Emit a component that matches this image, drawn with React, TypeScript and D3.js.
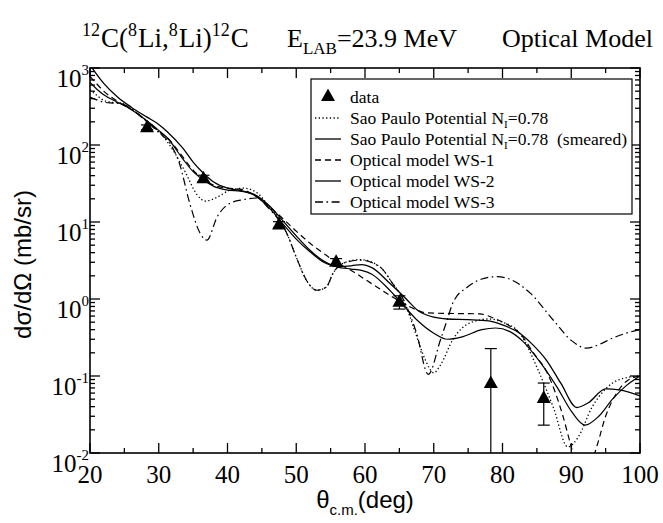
import React from 'react';
import * as d3 from 'd3';

// Measured angular distribution
const dataAngle = [28.3, 36.5, 47.5, 55.8, 65.0, 78.3, 86.0];
const dataSigma = [170, 37, 9.3, 3.05, 0.92, 0.081, 0.052];
const dataError = [12, 3.5, 0.8, 0.3, 0.18, 0.146, 0.029];

// Calculations: [theta_cm (deg), dsigma/dOmega (mb/sr)]
const saoPaulo: [number, number][] = [
  [20, 520], [21, 440], [22, 380], [23, 360], [24.5, 350], [26, 295], [28, 215], [30, 150],
  [32, 88], [34, 42], [35.5, 23], [36.8, 18.7], [38.5, 21], [40.4, 26], [42.3, 27.5], [44.3, 24],
  [46, 16], [47.5, 11], [48.6, 7.2], [50, 3.5], [51.5, 1.74], [53, 1.3], [54.4, 1.44], [55.4, 2.2],
  [56.8, 2.9], [59.3, 3.25], [62.2, 2.6], [64, 1.6], [65.6, 0.98], [66.5, 0.6], [67.5, 0.33],
  [68.8, 0.16], [70, 0.11], [71, 0.14], [72.8, 0.3], [75.3, 0.49], [78, 0.55], [80, 0.5],
  [82.5, 0.36], [85, 0.13], [87.4, 0.039], [89.5, 0.012], [91, 0.016], [93, 0.039], [95, 0.068],
  [97, 0.09], [100, 0.1],
];

const saoPauloSmeared: [number, number][] = [
  [20, 650], [21, 530], [22, 450], [24, 360], [26, 290], [28.3, 205], [30, 155], [31.2, 125],
  [33.5, 66], [35, 45], [36.5, 35], [38, 29], [40, 26], [42, 25], [44, 22], [46, 15.5], [48, 9.6],
  [50, 6], [52, 4.1], [54, 3.0], [56, 2.6], [58, 2.45], [59.5, 2.35], [61, 2.1], [63.6, 1.3],
  [66, 0.75], [67.6, 0.53], [70, 0.36], [72, 0.3], [74, 0.32], [77, 0.4], [79, 0.42], [81, 0.38],
  [83, 0.28], [85.5, 0.15], [88, 0.07], [90, 0.035], [92, 0.023], [94, 0.03], [96, 0.05],
  [98, 0.075], [100, 0.1],
];

const ws1: [number, number][] = [
  [20, 780], [21, 620], [22, 500], [24, 370], [26, 290], [28.3, 205], [30, 150], [31.2, 125],
  [33.5, 70], [35, 47], [36.5, 36], [38, 30], [40, 27.5], [42, 26.5], [44, 22], [46, 16], [48, 11.2],
  [50, 7.6], [52, 5.3], [54, 3.9], [55.8, 3.0], [58, 2.35], [60, 1.8], [62, 1.38], [64, 1.06],
  [66, 0.84], [67.5, 0.72], [69, 0.66], [72, 0.65], [76.7, 0.64], [79, 0.55], [81, 0.45],
  [82.5, 0.36], [84.5, 0.2], [86.5, 0.11], [88.8, 0.03], [90, 0.012], [91.3, 0.005], [92.5, 0.006],
  [93.7, 0.012], [95, 0.03], [96.6, 0.06], [98, 0.085], [100, 0.1],
];

const ws2: [number, number][] = [
  [20, 1100], [21, 820], [22, 630], [24, 420], [26, 310], [28.3, 230], [30, 185], [31.2, 150],
  [33.5, 91], [35, 60], [36.5, 43], [38, 33], [40, 27.5], [42, 25.5], [44, 22.5], [46, 16.5],
  [48, 10.5], [50, 6.6], [52, 4.3], [54, 3.1], [56, 2.65], [58, 2.7], [59.5, 2.8], [61, 2.55],
  [63.6, 1.6], [66, 1.0], [67.6, 0.72], [70, 0.58], [72, 0.55], [75, 0.54], [78, 0.52], [80, 0.46],
  [82.5, 0.36], [84.5, 0.25], [86.4, 0.16], [88.5, 0.08], [90.8, 0.039], [92.5, 0.045], [95, 0.068],
  [97, 0.066], [100, 0.055],
];

const ws3: [number, number][] = [
  [20, 420], [21, 385], [22, 360], [23.3, 350], [24.5, 345], [26, 295], [28, 210], [30, 145],
  [31.6, 106], [33, 58], [34.5, 17.6], [36, 7.2], [37, 5.8], [38.5, 11.7], [40.4, 17.6], [42.3, 19.5],
  [44.3, 20.5], [46, 15], [47.5, 10.5], [48.6, 7.2], [50, 3.5], [51.5, 1.74], [53, 1.3], [54.4, 1.44],
  [55.4, 2.2], [56.8, 2.9], [59.3, 3.2], [62.2, 2.6], [64, 1.6], [65.6, 0.98], [67.5, 0.36],
  [69.2, 0.105], [71, 0.3], [72, 0.55], [72.8, 0.9], [75, 1.45], [77, 1.82], [79.2, 1.95], [81, 1.82],
  [84, 1.2], [87.4, 0.53], [90, 0.29], [92.2, 0.23], [94, 0.255], [96, 0.31], [98, 0.36], [100, 0.4],
];

const xMajorTicks = [20, 30, 40, 50, 60, 70, 80, 90, 100];
const yDecades = [-2, -1, 0, 1, 2, 3];

const legendLabels = [
  'data',
  'Sao Paulo Potential N_I=0.78',
  'Sao Paulo Potential N_I=0.78  (smeared)',
  'Optical model WS-1',
  'Optical model WS-2',
  'Optical model WS-3',
];

const W = 663;
const H = 523;
const M = { left: 90, right: 640, top: 68, bottom: 453 };

const DOTTED = '1.3,2.4';
const DASHED = '6,4';
const DASHDOT = '8,3.5,1.6,3.5';

const serifStyle: React.CSSProperties = {
  fontFamily: "'Liberation Serif', 'DejaVu Serif', 'Times New Roman', serif",
  whiteSpace: 'pre',
};
const sansStyle: React.CSSProperties = {
  fontFamily: "'Liberation Sans', Arial, 'DejaVu Sans', sans-serif",
};

function Triangle({ cx, cy, s }: { cx: number; cy: number; s: number }) {
  const h = s * 0.9;
  return (
    <path
      d={`M${cx},${cy - h * 0.6} L${cx + s / 2},${cy + h * 0.4} L${cx - s / 2},${cy + h * 0.4} Z`}
      fill="#000"
    />
  );
}

function LegendText({ label, x, y }: { label: string; x: number; y: number }) {
  const parts = label.split('N_I');
  if (parts.length === 1) {
    return (
      <text x={x} y={y} style={serifStyle} fontSize={17.5}>
        {label}
      </text>
    );
  }
  return (
    <text x={x} y={y} style={serifStyle} fontSize={17.5}>
      {parts[0]}N
      <tspan fontSize={11} dy={4}>I</tspan>
      <tspan dy={-4}>{parts[1]}</tspan>
    </text>
  );
}

export default function App() {
  const x = d3.scaleLinear().domain([20, 100]).range([M.left, M.right]);
  const y = d3.scaleLog().domain([0.01, 1000]).range([M.bottom, M.top]);

  const line = d3
    .line<[number, number]>()
    .x((d) => x(d[0]))
    .y((d) => y(d[1]))
    .curve(d3.curveMonotoneX);

  const xMinor = d3.range(25, 100, 10);
  const yMinor: number[] = [];
  for (const e of yDecades.slice(0, -1)) {
    for (let m = 2; m <= 9; m++) yMinor.push(m * Math.pow(10, e));
  }

  const curves = [
    { pts: saoPaulo, dash: DOTTED, w: 1.3 },
    { pts: saoPauloSmeared, dash: undefined, w: 1.2 },
    { pts: ws1, dash: DASHED, w: 1.2 },
    { pts: ws2, dash: undefined, w: 1.3 },
    { pts: ws3, dash: DASHDOT, w: 1.2 },
  ];

  const legendStyles = [null, DOTTED, 'solid', DASHED, 'solid', DASHDOT];
  const lg = { x0: 311, x1: 632, y0: 79, y1: 214, rowY: 97, rowH: 21 };

  const tickMajor = 10;
  const tickMinor = 5;

  return (
    <svg
      width={W}
      height={H}
      style={{ position: 'absolute', left: 0, top: 0, background: '#fff' }}
    >
      <defs>
        <clipPath id="plotArea">
          <rect x={M.left} y={M.top} width={M.right - M.left} height={M.bottom - M.top} />
        </clipPath>
      </defs>

      {/* title */}
      <text y={47} style={serifStyle} fontSize={27}>
        <tspan x={82} fontSize={18} dy={-11}>12</tspan>
        <tspan fontSize={27} dy={11} dx={1}>C(</tspan>
        <tspan fontSize={18} dy={-11}>8</tspan>
        <tspan fontSize={27} dy={11} dx={1}>Li,</tspan>
        <tspan fontSize={18} dy={-11}>8</tspan>
        <tspan fontSize={27} dy={11} dx={1}>Li)</tspan>
        <tspan fontSize={18} dy={-11}>12</tspan>
        <tspan fontSize={27} dy={11} dx={1}>C</tspan>
      </text>
      <text y={47} style={serifStyle} fontSize={26}>
        <tspan x={287}>E</tspan>
        <tspan fontSize={17} dy={7}>LAB</tspan>
        <tspan fontSize={26} dy={-7}>=23.9 MeV</tspan>
      </text>
      <text x={502} y={47} style={serifStyle} fontSize={26}>
        Optical Model
      </text>

      {/* curves */}
      <g clipPath="url(#plotArea)" fill="none" stroke="#000">
        {curves.map((c, i) => (
          <path key={i} d={line(c.pts) || ''} strokeWidth={c.w} strokeDasharray={c.dash} />
        ))}
      </g>

      {/* data with error bars */}
      <g clipPath="url(#plotArea)" stroke="#000" strokeWidth={1.2}>
        {dataAngle.map((a, i) => {
          const lo = dataSigma[i] - dataError[i];
          const yl = lo > 0 ? y(lo) : M.bottom + 5;
          const yh = y(dataSigma[i] + dataError[i]);
          const cx = x(a);
          return (
            <g key={i}>
              <line x1={cx} x2={cx} y1={yl} y2={yh} />
              <line x1={cx - 6} x2={cx + 6} y1={yh} y2={yh} />
              {lo > 0 && <line x1={cx - 6} x2={cx + 6} y1={yl} y2={yl} />}
            </g>
          );
        })}
      </g>
      {dataAngle.map((a, i) => (
        <Triangle key={i} cx={x(a)} cy={y(dataSigma[i])} s={14} />
      ))}

      {/* frame and ticks */}
      <g stroke="#000" strokeWidth={1.3}>
        {xMajorTicks.map((t) => (
          <g key={t}>
            <line x1={x(t)} x2={x(t)} y1={M.bottom} y2={M.bottom - tickMajor} />
            <line x1={x(t)} x2={x(t)} y1={M.top} y2={M.top + tickMajor} />
          </g>
        ))}
        {xMinor.map((t) => (
          <g key={t}>
            <line x1={x(t)} x2={x(t)} y1={M.bottom} y2={M.bottom - tickMinor} />
            <line x1={x(t)} x2={x(t)} y1={M.top} y2={M.top + tickMinor} />
          </g>
        ))}
        {yDecades.map((e) => {
          const yy = y(Math.pow(10, e));
          return (
            <g key={e}>
              <line x1={M.left} x2={M.left + tickMajor} y1={yy} y2={yy} />
              <line x1={M.right} x2={M.right - tickMajor} y1={yy} y2={yy} />
            </g>
          );
        })}
        {yMinor.map((v) => {
          const yy = y(v);
          return (
            <g key={v}>
              <line x1={M.left} x2={M.left + tickMinor} y1={yy} y2={yy} />
              <line x1={M.right} x2={M.right - tickMinor} y1={yy} y2={yy} />
            </g>
          );
        })}
        <rect
          x={M.left}
          y={M.top}
          width={M.right - M.left}
          height={M.bottom - M.top}
          fill="none"
          strokeWidth={1.6}
        />
      </g>

      {/* tick labels */}
      {xMajorTicks.map((t) => (
        <text key={t} x={x(t)} y={483} textAnchor="middle" style={serifStyle} fontSize={25}>
          {t}
        </text>
      ))}
      {yDecades.map((e) => (
        <text
          key={e}
          x={89}
          y={y(Math.pow(10, e)) + 19}
          textAnchor="end"
          style={serifStyle}
          fontSize={25}
        >
          10
          <tspan fontSize={15} dy={-12}>{String(e)}</tspan>
        </text>
      ))}

      {/* axis titles */}
      <text
        transform={`translate(31,${(M.top + M.bottom) / 2 + 4}) rotate(-90)`}
        textAnchor="middle"
        style={sansStyle}
        fontSize={24}
      >
        dσ/dΩ (mb/sr)
      </text>
      <text x={365} y={508} textAnchor="middle" style={sansStyle} fontSize={24}>
        θ
        <tspan fontSize={15} dy={7}>c.m.</tspan>
        <tspan dy={-7}>(deg)</tspan>
      </text>

      {/* legend */}
      <rect
        x={lg.x0}
        y={lg.y0}
        width={lg.x1 - lg.x0}
        height={lg.y1 - lg.y0}
        fill="#fff"
        stroke="#000"
        strokeWidth={1.2}
      />
      {legendLabels.map((lab, i) => {
        const cy = lg.rowY + i * lg.rowH;
        const st = legendStyles[i];
        return (
          <g key={i}>
            {st === null ? (
              <Triangle cx={328} cy={cy - 1} s={14} />
            ) : (
              <line
                x1={315}
                x2={341}
                y1={cy}
                y2={cy}
                stroke="#000"
                strokeWidth={1.3}
                strokeDasharray={st === 'solid' ? undefined : st}
              />
            )}
            <LegendText label={lab} x={350} y={cy + 6} />
          </g>
        );
      })}
    </svg>
  );
}
